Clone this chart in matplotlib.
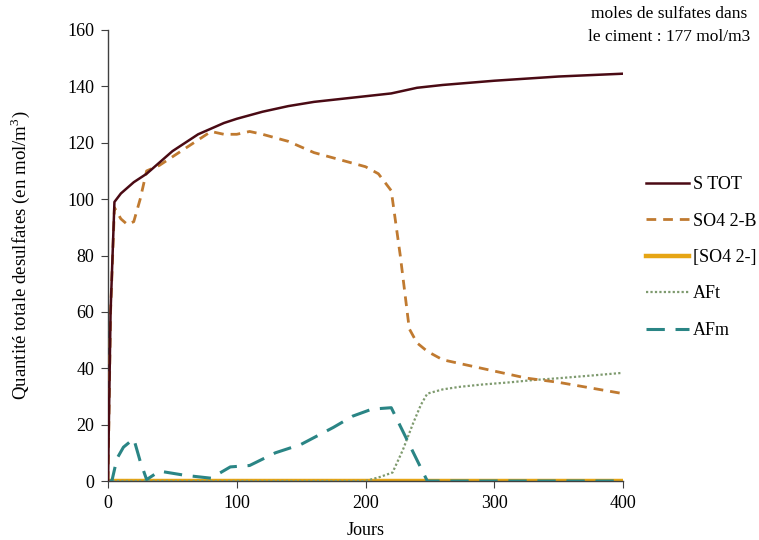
import matplotlib
matplotlib.use("Agg")
import matplotlib.pyplot as plt

# ---- data ----
stot_days = [0, 2, 5, 10, 20, 30, 40, 50, 60, 70, 80, 90, 100, 120, 140, 160, 180, 200, 220, 240, 260, 300, 350, 400]
stot_vals = [0, 60, 99, 102, 106, 109, 113, 117, 120, 123, 125, 127, 128.5, 131, 133, 134.5, 135.5, 136.5, 137.5, 139.5, 140.5, 142, 143.5, 144.5]

so4b_days = [0, 2, 5, 10, 15, 20, 25, 30, 40, 50, 60, 70, 80, 90, 100, 110, 120, 140, 160, 180, 200, 210, 220, 227, 234, 240, 248, 260, 280, 300, 325, 350, 375, 400]
so4b_vals = [0, 60, 97, 93, 91, 92, 100, 110, 112, 115, 118, 121, 124, 123, 123, 124, 123, 120.5, 116.5, 114, 111.5, 109, 103, 80, 54, 49, 46, 43, 41, 39, 36.5, 35, 33, 31]

so4_days = [0, 400]
so4_vals = [0, 0]

aft_days = [0, 200, 211, 221, 229, 237, 243, 248, 260, 273, 290, 312, 330, 351, 375, 398]
aft_vals = [0, 0, 1.4, 3, 11, 20.5, 27, 31, 32.5, 33.4, 34.2, 35, 35.8, 36.5, 37.4, 38.3]

afm_days = [0, 3, 7, 12, 20, 25, 30, 40, 60, 80, 95, 110, 130, 150, 175, 190, 205, 220, 248, 300, 400]
afm_vals = [0, 0, 8, 12, 15, 7, 0.5, 3.5, 2, 1, 5, 5.5, 10, 13, 19, 23, 25.5, 26, 0, 0, 0]

labels = ["S TOT", "SO4 2-B", "[SO4 2-]", "AFt", "AFm"]
xticks = [0, 100, 200, 300, 400]
yticks = [0, 20, 40, 60, 80, 100, 120, 140, 160]

plt.rcParams['font.family'] = ['Liberation Serif', 'DejaVu Serif']
plt.rcParams['mathtext.fontset'] = 'custom'
plt.rcParams['mathtext.rm'] = 'Liberation Serif'

FS = 13

fig = plt.figure(figsize=(7.59, 5.40), dpi=100)
ax = fig.add_axes([108/759, 1-481/540, (623-108)/759, (481-30)/540])

ax.plot(so4_days, so4_vals, color='#E6A514', lw=3.2, label=labels[2], zorder=2)
ax.plot(aft_days, aft_vals, color='#7E9A6E', lw=1.6, linestyle=(0, (1, 1)), label=labels[3], zorder=3)
ax.plot(afm_days, afm_vals, color='#2A8585', lw=2.2, linestyle=(0, (6, 3.5)), label=labels[4], zorder=4)
ax.plot(so4b_days, so4b_vals, color='#C07A30', lw=2.0, linestyle=(0, (3.5, 2.5)), label=labels[1], zorder=5)
ax.plot(stot_days, stot_vals, color='#4A0A14', lw=1.8, label=labels[0], zorder=6)

ax.set_xlim(0, 400)
ax.set_ylim(0, 160)
ax.set_xticks(xticks)
ax.set_yticks(yticks)
ax.spines['top'].set_visible(False)
ax.spines['right'].set_visible(False)
for s in ['left', 'bottom']:
    ax.spines[s].set_color('#404040')
    ax.spines[s].set_linewidth(1.0)
ax.tick_params(direction='out', length=5, color='#404040', labelsize=FS, pad=5)
ax.set_xlabel("Jours", fontsize=FS)
ax.set_ylabel("Quantité totale desulfates (en mol/m$^{3}$)", fontsize=13.6)
ax.xaxis.set_label_coords(0.5, -0.092)
ax.yaxis.set_label_coords(-0.147, 0.5)

handles, labs = ax.get_legend_handles_labels()
order = [labs.index(l) for l in labels]
leg = fig.legend([handles[i] for i in order], [labs[i] for i in order],
                 loc='upper left', bbox_to_anchor=(646/759, 1-176/540), frameon=False,
                 fontsize=FS, handlelength=2.4, handletextpad=0.2, labelspacing=1.08,
                 borderpad=0, borderaxespad=0)

fig.text(669/759, 1-6/540, "moles de sulfates dans\nle ciment : 177 mol/m3", ha='center', va='top',
         fontsize=12.5, linespacing=1.6)

fig.savefig("out.png", dpi=100, facecolor='white')
